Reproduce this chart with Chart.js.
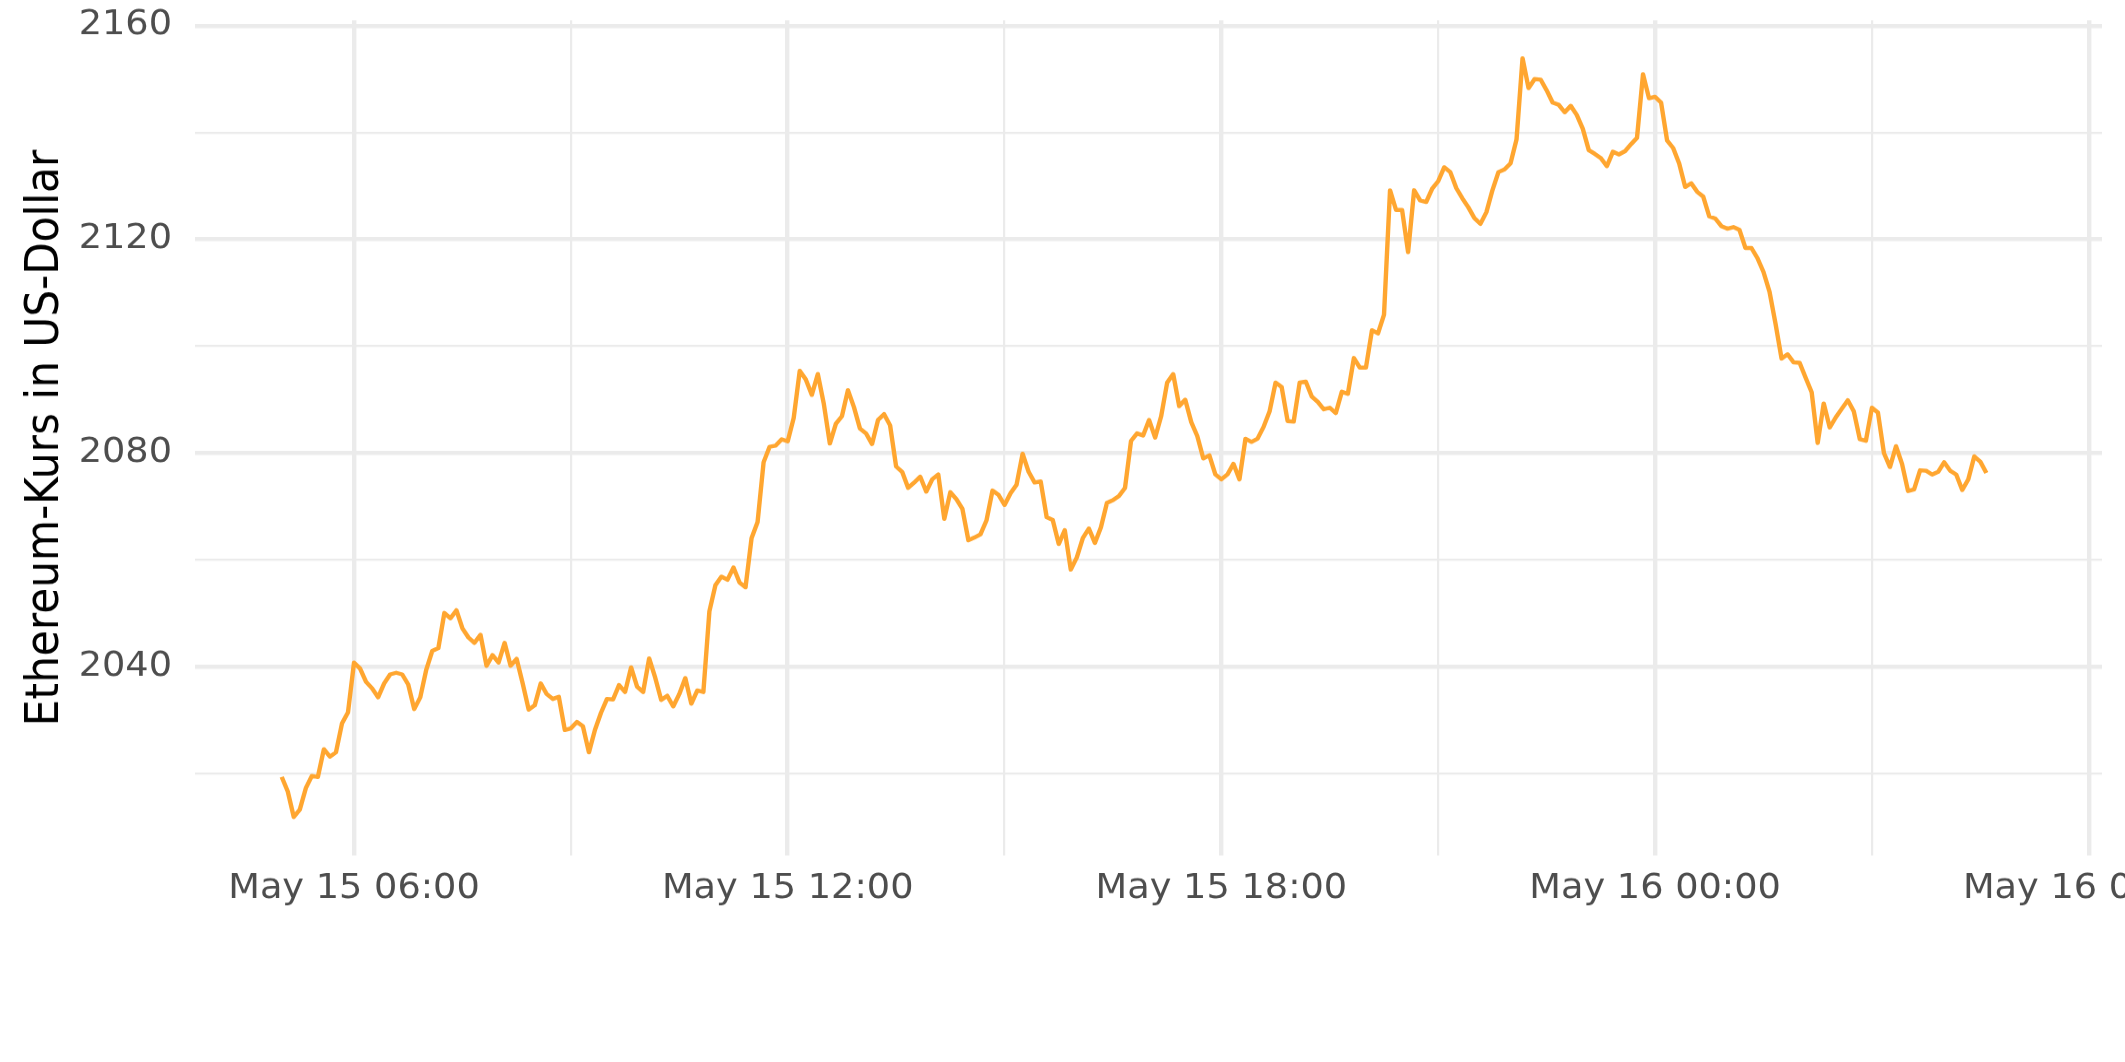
<!DOCTYPE html>
<html>
<head>
<meta charset="utf-8">
<script src="https://cdn.jsdelivr.net/npm/chart.js@4.4.1/dist/chart.umd.min.js"></script>
<style>
  html, body { margin: 0; padding: 0; background: #fff; overflow: hidden; }
  #wrap { width: 2125px; height: 1062px; overflow: hidden; }
</style>
</head>
<body>
<!-- drawn at 1152 px high, shown squeezed to 1062 like the reference -->
<div id="wrap"><canvas id="ethChart" width="2240" height="1152" style="display:block;width:2240px;height:1062px"></canvas></div>
<script>
// minutes since May 15 00:00, one price every 5 minutes
const startMinute = 300;
const stepMinutes = 5;

const prices = [
  2019.4, 2016.7, 2011.9, 2013.3, 2017.3, 2019.6, 2019.4, 2024.6, 2023.2, 2024.0, 2029.4, 2031.5,
  2040.8, 2039.7, 2037.2, 2036.0, 2034.3, 2036.9, 2038.6, 2038.9, 2038.6, 2036.7, 2032.1, 2034.3,
  2039.5, 2043.0, 2043.5, 2050.1, 2049.1, 2050.6, 2047.2, 2045.5, 2044.5, 2046.0, 2040.2, 2042.2,
  2040.8, 2044.5, 2040.2, 2041.5, 2036.9, 2032.0, 2032.8, 2036.9, 2034.9, 2034.0, 2034.4, 2028.2,
  2028.5, 2029.7, 2028.9, 2024.0, 2028.2, 2031.4, 2034.0, 2033.9, 2036.6, 2035.3, 2039.9, 2036.3,
  2035.3, 2041.6, 2038.0, 2033.8, 2034.6, 2032.6, 2034.9, 2037.9, 2033.1, 2035.6, 2035.3, 2050.4,
  2055.3, 2056.9, 2056.3, 2058.6, 2055.8, 2054.9, 2064.1, 2067.1, 2078.3, 2081.2, 2081.4, 2082.6,
  2082.2, 2086.6, 2095.4, 2093.8, 2090.9, 2094.8, 2089.2, 2081.8, 2085.5, 2086.9, 2091.8, 2088.6,
  2084.6, 2083.7, 2081.7, 2086.2, 2087.3, 2085.2, 2077.5, 2076.5, 2073.5, 2074.5, 2075.6, 2072.8,
  2075.1, 2076.0, 2067.7, 2072.7, 2071.4, 2069.6, 2063.7, 2064.2, 2064.8, 2067.4, 2073.0, 2072.2,
  2070.3, 2072.5, 2074.1, 2079.9, 2076.5, 2074.5, 2074.7, 2068.0, 2067.5, 2063.0, 2065.6, 2058.2,
  2060.5, 2064.1, 2065.9, 2063.2, 2066.1, 2070.7, 2071.2, 2072.0, 2073.5, 2082.3, 2083.7, 2083.3,
  2086.2, 2082.9, 2086.9, 2093.2, 2094.8, 2088.8, 2090.0, 2085.8, 2083.2, 2079.0, 2079.6, 2076.0,
  2075.1, 2076.0, 2078.0, 2075.1, 2082.7, 2082.1, 2082.7, 2084.9, 2087.8, 2093.2, 2092.4, 2086.0,
  2085.9, 2093.2, 2093.4, 2090.6, 2089.6, 2088.2, 2088.5, 2087.5, 2091.5, 2091.1, 2097.8, 2096.0,
  2096.0, 2103.0, 2102.4, 2105.9, 2129.2, 2125.5, 2125.5, 2117.6, 2129.2, 2127.3, 2127.0, 2129.5,
  2130.9, 2133.5, 2132.6, 2129.6, 2127.7, 2126.0, 2124.0, 2122.9, 2125.1, 2129.2, 2132.6, 2133.1,
  2134.2, 2138.7, 2153.9, 2148.3, 2150.0, 2149.9, 2147.9, 2145.6, 2145.2, 2143.8, 2145.0, 2143.3,
  2140.7, 2136.7, 2136.0, 2135.2, 2133.7, 2136.4, 2135.9, 2136.5, 2137.8, 2139.0, 2150.9, 2146.4,
  2146.7, 2145.6, 2138.5, 2137.1, 2134.2, 2129.8, 2130.5, 2128.9, 2128.0, 2124.3, 2123.9, 2122.5,
  2122.0, 2122.3, 2121.8, 2118.4, 2118.4, 2116.5, 2113.9, 2110.2, 2104.2, 2097.7, 2098.5, 2097.0,
  2096.9, 2094.1, 2091.4, 2081.9, 2089.3, 2084.8, 2086.7, 2088.3, 2089.9, 2087.8, 2082.6, 2082.3,
  2088.5, 2087.6, 2080.0, 2077.4, 2081.3, 2078.0, 2072.9, 2073.2, 2076.8, 2076.7, 2076.0, 2076.5,
  2078.3, 2076.7, 2076.0, 2073.1, 2075.1, 2079.4, 2078.4, 2076.3
];

const monthName = 'May';
const firstDay = 15;

const points = prices.map((p, i) => ({ x: startMinute + i * stepMinutes, y: p }));

function timeLabel(v) {
  const day = firstDay + Math.floor(v / 1440);
  const m = v % 1440;
  const hh = String(Math.floor(m / 60)).padStart(2, '0');
  const mm = String(m % 60).padStart(2, '0');
  return monthName + ' ' + day + ' ' + hh + ':' + mm;
}

Chart.defaults.font.family = '"DejaVu Sans", sans-serif';

const ctx = document.getElementById('ethChart').getContext('2d');
new Chart(ctx, {
  type: 'line',
  data: {
    datasets: [{
      data: points,
      borderColor: '#FFA630',
      borderWidth: 4.4,
      pointRadius: 0,
      tension: 0,
      fill: false,
      borderJoinStyle: 'round'
    }]
  },
  options: {
    responsive: false,
    animation: false,
    devicePixelRatio: 1,
    layout: { padding: { left: 23, right: 138, top: 22, bottom: 164 } },
    plugins: { legend: { display: false }, tooltip: { enabled: false } },
    scales: {
      x: {
        type: 'linear',
        min: 228,
        max: 1811,
        border: { display: false },
        grid: {
          drawTicks: false,
          color: '#EBEBEB',
          lineWidth: c => (c.tick && c.tick.value % 360 === 0) ? 4.4 : 2.2
        },
        ticks: {
          stepSize: 180,
          includeBounds: false,
          autoSkip: false,
          maxRotation: 0,
          minRotation: 0,
          padding: 14,
          color: '#4D4D4D',
          font: { size: 36.7 },
          callback: v => (v % 360 === 0) ? timeLabel(v) : ''
        },
        afterFit: s => { s.height = 60; s.paddingLeft = 0; s.paddingRight = 0; }
      },
      y: {
        min: 2004.7,
        max: 2161.0,
        border: { display: false },
        grid: {
          drawTicks: false,
          color: '#EBEBEB',
          lineWidth: c => (c.tick && c.tick.value % 40 === 0) ? 4.4 : 2.2
        },
        ticks: {
          stepSize: 20,
          includeBounds: false,
          padding: 23,
          color: '#4D4D4D',
          font: { size: 36.7 },
          callback: v => (v % 40 === 0) ? String(v) : ''
        },
        title: {
          display: true,
          text: 'Ethereum-Kurs in US-Dollar',
          color: '#000000',
          font: { size: 45.8, lineHeight: 1 },
          padding: { top: 0, bottom: 10 }
        },
        afterFit: s => { s.width = 172; s.paddingTop = 0; s.paddingBottom = 0; }
      }
    }
  }
});
</script>
</body>
</html>
